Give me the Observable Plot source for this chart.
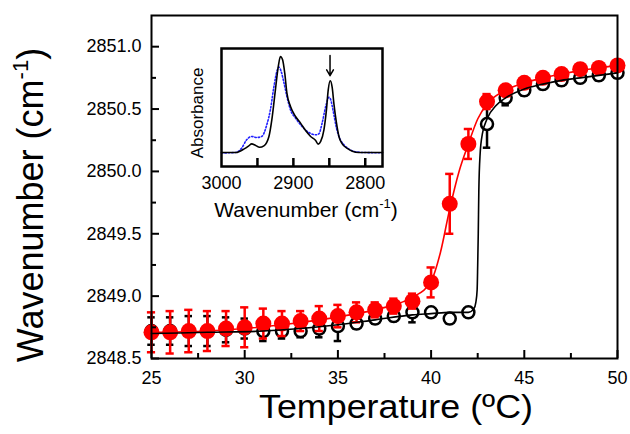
<!DOCTYPE html>
<html>
<head>
<meta charset="utf-8">
<script src="https://cdn.jsdelivr.net/npm/d3@7"></script>
<script src="https://cdn.jsdelivr.net/npm/@observablehq/plot@0.6"></script>
<style>
  body { margin: 0; background: #fff; }
  #chart { position: relative; width: 630px; height: 434px; }
  #inset { position: absolute; left: 170px; top: 20px; }
</style>
</head>
<body>
<div id="chart"><div id="inset"></div></div>
<script>
// Temperature steps (°C)
const temperature = [25, 26, 27, 28, 29, 30, 31, 32, 33, 34, 35, 36, 37, 38, 39, 40, 41, 42, 43, 44, 45, 46, 47, 48, 49, 50];

// Filled (red) series: CH2 symmetric stretch position and error
const filledY = [2848.71, 2848.71, 2848.72, 2848.72, 2848.74, 2848.75, 2848.78, 2848.78, 2848.80, 2848.82, 2848.84, 2848.87, 2848.89, 2848.92, 2848.96, 2849.11, 2849.74, 2850.22, 2850.56, 2850.65, 2850.71, 2850.75, 2850.78, 2850.82, 2850.83, 2850.85];
const filledErr = [0.16, 0.17, 0.17, 0.16, 0.14, 0.16, 0.12, 0.10, 0.08, 0.10, 0.09, 0.08, 0.06, 0.06, 0.06, 0.12, 0.24, 0.12, 0.06, 0.03, 0.03, 0.03, 0.03, 0.03, 0.03, 0.03];

// Open (black) series
const openY = [2848.72, 2848.72, 2848.72, 2848.72, 2848.73, 2848.74, 2848.72, 2848.72, 2848.72, 2848.74, 2848.76, 2848.78, 2848.82, 2848.84, 2848.87, 2848.87, 2848.82, 2848.87, 2850.38, 2850.59, 2850.65, 2850.70, 2850.73, 2850.75, 2850.77, 2850.79];
const openErr = [0.11, 0.11, 0.12, 0.12, 0.10, 0.08, 0.08, 0.06, 0.05, 0.07, 0.12, 0.04, 0.04, 0.04, 0.08, 0.03, 0.04, 0.03, 0.19, 0.06, 0.04, 0.04, 0.04, 0.04, 0.04, 0.04];

// Sigmoidal fit curves
const fitFilledT = [25, 28, 30, 32, 34, 36, 37, 38, 39, 40, 40.5, 41, 41.5, 42, 42.5, 43, 44, 45, 46, 47, 48, 49, 50];
const fitFilledY = [2848.71, 2848.72, 2848.74, 2848.77, 2848.81, 2848.86, 2848.89, 2848.93, 2848.99, 2849.12, 2849.35, 2849.70, 2850.00, 2850.22, 2850.42, 2850.54, 2850.65, 2850.71, 2850.75, 2850.78, 2850.81, 2850.83, 2850.85];
const fitOpenT = [25, 28, 31, 33, 35, 37, 39, 40, 41, 42, 42.3, 42.4, 42.47, 42.5, 42.53, 42.56, 42.63, 42.75, 43, 43.5, 44, 45, 46, 47, 48, 49, 50];
const fitOpenY = [2848.70, 2848.71, 2848.72, 2848.74, 2848.77, 2848.81, 2848.85, 2848.86, 2848.87, 2848.87, 2848.90, 2848.95, 2849.05, 2849.25, 2849.50, 2849.84, 2850.14, 2850.30, 2850.42, 2850.53, 2850.59, 2850.66, 2850.70, 2850.73, 2850.75, 2850.77, 2850.79];

// Axis ticks
const xMajor = [25, 30, 35, 40, 45, 50];
const xMinor = [27.5, 32.5, 37.5, 42.5, 47.5];
const yMajor = [2848.5, 2849.0, 2849.5, 2850.0, 2850.5, 2851.0];
const yMinor = [2848.75, 2849.25, 2849.75, 2850.25, 2850.75];

// Inset: IR spectra in the C–H stretching region
const solidNu = [3000, 2979, 2976, 2969, 2962, 2958, 2953, 2947, 2941, 2934, 2930, 2925, 2921, 2918, 2915, 2912, 2909, 2904, 2897, 2890, 2883, 2876, 2869, 2865.5, 2862, 2857.5, 2854, 2851.5, 2848.7, 2846, 2843.6, 2840, 2836.6, 2832, 2825, 2818, 2809, 2776];
const solidAbs = [0, 0, 0.007, 0.035, 0.069, 0.090, 0.076, 0.054, 0.069, 0.167, 0.340, 0.653, 0.896, 1.0, 0.965, 0.826, 0.618, 0.479, 0.375, 0.306, 0.229, 0.167, 0.125, 0.087, 0.115, 0.236, 0.444, 0.653, 0.747, 0.677, 0.507, 0.306, 0.167, 0.090, 0.042, 0.014, 0, 0];
const dottedNu = [3000, 2981, 2972, 2965, 2958, 2951, 2944, 2937, 2932, 2927, 2923, 2920, 2917, 2913, 2909, 2904, 2897, 2888, 2878.5, 2869, 2864.5, 2860, 2855, 2850.6, 2848, 2844.5, 2840, 2835.7, 2829.6, 2822.6, 2813, 2804, 2776];
const dottedAbs = [-0.005, 0, 0.045, 0.132, 0.167, 0.156, 0.167, 0.288, 0.444, 0.688, 0.844, 0.889, 0.844, 0.722, 0.583, 0.444, 0.358, 0.271, 0.208, 0.184, 0.194, 0.306, 0.479, 0.576, 0.549, 0.427, 0.253, 0.149, 0.080, 0.035, 0.007, 0, -0.003];
const insetTicks = [2950, 2900, 2850, 2800];
const insetLabels = [3000, 2900, 2800];
const arrowNu = 2849, arrowTop = 1.01, arrowTip = 0.80;

const font = "Liberation Sans, Arial, Helvetica, sans-serif";

const filled = temperature.map((t, i) => ({t, y: filledY[i], e: filledErr[i]}));
const open = temperature.map((t, i) => ({t, y: openY[i], e: openErr[i]}));
const fitFilled = fitFilledT.map((t, i) => ({t, y: fitFilledY[i]}));
const fitOpen = fitOpenT.map((t, i) => ({t, y: fitOpenY[i]}));

const W = 630, H = 434, mL = 151, mR = 13, mT = 15, mB = 76;
const innerW = W - mL - mR, innerH = H - mT - mB;

function errorMarks(rows, color, cap) {
  return [
    Plot.ruleX(rows, {x: "t", y1: d => d.y - d.e, y2: d => d.y + d.e, stroke: color, strokeWidth: 2.5}),
    Plot.ruleY(rows, {y: d => d.y + d.e, x1: d => d.t - cap, x2: d => d.t + cap, stroke: color, strokeWidth: 2.5}),
    Plot.ruleY(rows, {y: d => d.y - d.e, x1: d => d.t - cap, x2: d => d.t + cap, stroke: color, strokeWidth: 2.5})
  ];
}

const main = Plot.plot({
  width: W, height: H,
  marginLeft: mL, marginRight: mR, marginTop: mT, marginBottom: mB,
  style: {fontFamily: font, fontSize: "18px", color: "black", background: "transparent"},
  x: {domain: [25, 50], label: null},
  y: {domain: [2848.5, 2851.25], label: null},
  marks: [
    // open series underneath
    ...errorMarks(open, "black", 0.2),
    Plot.dot(open, {x: "t", y: "y", r: 6, stroke: "black", strokeWidth: 2.5, fill: "white"}),
    // filled series
    Plot.line(fitFilled, {x: "t", y: "y", stroke: "red", strokeWidth: 1.6, curve: "monotone-x"}),
    ...errorMarks(filled, "red", 0.22),
    Plot.dot(filled, {x: "t", y: "y", r: 8, fill: "red"}),
    // fit of open series on top
    Plot.line(fitOpen, {x: "t", y: "y", stroke: "black", strokeWidth: 1.6, curve: "monotone-x"}),
    // inward ticks
    Plot.tickX(xMajor, {x: d => d, insetTop: innerH - 8, strokeWidth: 2}),
    Plot.tickX(xMinor, {x: d => d, insetTop: innerH - 5, strokeWidth: 2}),
    Plot.tickY(yMajor, {y: d => d, insetRight: innerW - 8, strokeWidth: 2}),
    Plot.tickY(yMinor, {y: d => d, insetRight: innerW - 5, strokeWidth: 2}),
    Plot.axisX({ticks: xMajor, tickSize: 0, tickPadding: 13, fontSize: 18, label: null, tickFormat: d => String(d)}),
    Plot.axisY({ticks: yMajor, tickSize: 0, tickPadding: 10, fontSize: 18, label: null, tickFormat: d3.format(".1f")}),
    Plot.frame({stroke: "black", strokeWidth: 2})
  ]
});

const chart = document.getElementById("chart");
chart.insertBefore(main, chart.firstChild);

const svg = d3.select(main);
svg.append("text")
  .attr("x", 396).attr("y", 418)
  .attr("text-anchor", "middle")
  .attr("font-family", font).attr("font-size", 34).attr("fill", "black")
  .attr("textLength", 274).attr("lengthAdjust", "spacingAndGlyphs")
  .text("Temperature (ºC)");

const yTitle = svg.append("text")
  .attr("transform", "translate(43,205) rotate(-90)")
  .attr("text-anchor", "middle")
  .attr("font-family", font).attr("font-size", 36).attr("fill", "black");
yTitle.append("tspan").text("Wavenumber (cm");
yTitle.append("tspan").attr("dy", -15).attr("font-size", 22).text("-1");
yTitle.append("tspan").attr("dy", 15).text(")");

// Inset spectra
const solid = solidNu.map((n, i) => ({n, a: solidAbs[i]}));
const dotted = dottedNu.map((n, i) => ({n, a: dottedAbs[i]}));
const iW = 230, iH = 210, iL = 51, iR = 18, iT = 28, iB = 64;
const inset = Plot.plot({
  width: iW, height: iH,
  marginLeft: iL, marginRight: iR, marginTop: iT, marginBottom: iB,
  style: {fontFamily: font, fontSize: "18px", color: "black", background: "transparent"},
  x: {domain: [3000, 2776], label: null},
  y: {domain: [-0.146, 1.083], label: null, axis: null},
  marks: [
    Plot.line(dotted, {x: "n", y: "a", stroke: "#2020ff", strokeWidth: 1.6, strokeDasharray: "1.4,2", curve: "monotone-x"}),
    Plot.line(solid, {x: "n", y: "a", stroke: "black", strokeWidth: 1.6, curve: "monotone-x"}),
    Plot.arrow([arrowNu], {x1: d => d, x2: d => d, y1: arrowTop, y2: arrowTip, headLength: 9, strokeWidth: 1.5, stroke: "black"}),
    Plot.tickX(insetTicks, {x: d => d, insetTop: iH - iT - iB - 8, strokeWidth: 2.5}),
    Plot.axisX({ticks: insetLabels, tickSize: 0, tickPadding: 10, fontSize: 18, label: null, tickFormat: d => String(d)}),
    Plot.frame({stroke: "black", strokeWidth: 2.5})
  ]
});
inset.style.overflow = "visible";
document.getElementById("inset").appendChild(inset);

const isvg = d3.select(inset);
const xl = isvg.append("text")
  .attr("x", 136).attr("y", 197)
  .attr("text-anchor", "middle")
  .attr("font-family", font).attr("font-size", 21).attr("fill", "black");
xl.append("tspan").text("Wavenumber (cm");
xl.append("tspan").attr("dy", -9).attr("font-size", 13).text("-1");
xl.append("tspan").attr("dy", 9).text(")");

isvg.append("text")
  .attr("transform", "translate(33,93) rotate(-90)")
  .attr("text-anchor", "middle")
  .attr("font-family", font).attr("font-size", 17).attr("fill", "black")
  .text("Absorbance");
</script>
</body>
</html>
